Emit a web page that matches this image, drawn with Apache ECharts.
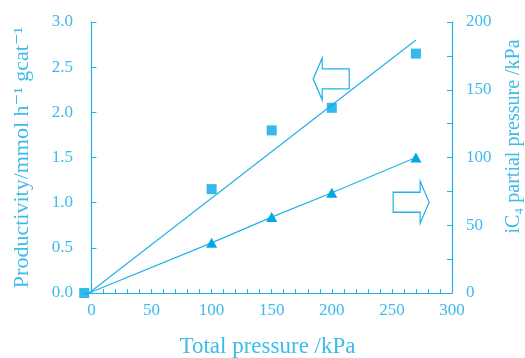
<!DOCTYPE html>
<html>
<head>
<meta charset="utf-8">
<script src="https://cdn.jsdelivr.net/npm/echarts@6/dist/echarts.min.js"></script>
<style>
  html, body { margin: 0; padding: 0; background: #fff; }
  #chart { width: 525px; height: 358px; }
</style>
</head>
<body>
<div id="chart"></div>
<script>
// productivity (left axis, squares)
const prodPressure = [-6, 100, 150, 200, 270];
const productivity = [0, 1.15, 1.8, 2.05, 2.65];
// straight fit through productivity
const fitPressure = [-2, 270];
const fitProductivity = [0, 2.8];
// iC4 partial pressure (right axis, triangles)
const ic4Pressure = [-2, 100, 150, 200, 270];
const ic4Partial = [0, 37, 56, 74, 100];

const xLabels = [0, 50, 100, 150, 200, 250, 300];
const xTicks = [0, 10, 20, 30, 40, 50, 60, 70, 80, 90, 100, 110, 120, 130, 140, 150,
  160, 170, 180, 190, 200, 210, 220, 230, 240, 250, 260, 270, 280, 290, 300];

const LINE = "#22b2e8";
const MARK = "#00a8e6";
const TEXT = "#3dbbea";
const FONT = "'Liberation Serif', 'DejaVu Serif', serif";

const chart = echarts.init(document.getElementById("chart"));

const leftArrow = "path://M0,21 L9,0 L9,11 L36,11 L36,31 L9,31 L9,42 Z";
const rightArrow = "path://M36,21 L27,0 L27,11 L0,11 L0,31 L27,31 L27,42 Z";

chart.setOption({
  animation: false,
  backgroundColor: "#fff",
  grid: { left: 83, right: 73, top: 22, bottom: 65, outerBoundsMode: "none" },
  xAxis: {
    type: "value",
    min: -7,
    max: 300,
    name: "Total pressure /kPa",
    nameLocation: "middle",
    nameGap: 42,
    nameTextStyle: { color: TEXT, fontFamily: FONT, fontSize: 23 },
    axisLine: { onZero: false, lineStyle: { color: LINE, width: 1.2 } },
    axisTick: { inside: true, length: 4, customValues: xTicks, lineStyle: { color: LINE } },
    axisLabel: { customValues: xLabels, color: TEXT, fontFamily: FONT, fontSize: 17, margin: 9 },
    splitLine: { show: false },
  },
  yAxis: [
    {
      type: "value",
      min: 0,
      max: 3,
      interval: 0.5,
      name: "Productivity/mmol h\u207B\u00B9 gcat\u207B\u00B9",
      nameLocation: "middle",
      nameGap: 50,
      nameTextStyle: { color: TEXT, fontFamily: FONT, fontSize: 22 },
      axisLine: { show: true, lineStyle: { color: LINE, width: 1.2 } },
      axisTick: { inside: true, length: 5, lineStyle: { color: LINE } },
      axisLabel: { color: TEXT, fontFamily: FONT, fontSize: 17, margin: 10,
        formatter: (v) => v.toFixed(1) },
      splitLine: { show: false },
    },
    {
      type: "value",
      min: 0,
      max: 200,
      interval: 25,
      position: "right",
      name: "iC\u2084 partial pressure /kPa",
      nameLocation: "middle",
      nameGap: 52,
      nameRotate: 90,
      nameTextStyle: { color: TEXT, fontFamily: FONT, fontSize: 20, padding: [0, 0, 0, 42] },
      axisLine: { show: true, lineStyle: { color: LINE, width: 1.2 } },
      axisTick: { inside: true, length: 5, lineStyle: { color: LINE } },
      axisLabel: { color: TEXT, fontFamily: FONT, fontSize: 17, margin: 14,
        formatter: (v) => (v % 50 === 0 ? String(v) : "") },
      splitLine: { show: false },
    },
  ],
  series: [
    {
      name: "fit",
      type: "line",
      yAxisIndex: 0,
      data: fitPressure.map((x, i) => [x, fitProductivity[i]]),
      showSymbol: false,
      lineStyle: { color: LINE, width: 1.2 },
      markPoint: {
        symbol: leftArrow,
        symbolSize: [36, 42],
        label: { show: false },
        itemStyle: { color: "#fff", borderColor: LINE, borderWidth: 1.3 },
        data: [{ coord: [199.5, 2.37] }],
      },
    },
    {
      name: "iC4",
      type: "line",
      yAxisIndex: 1,
      data: ic4Pressure.map((x, i) =>
        i === 0 ? { value: [x, ic4Partial[i]], symbol: "none" } : [x, ic4Partial[i]]),
      symbol: "triangle",
      symbolSize: [11, 10],
      showAllSymbol: true,
      lineStyle: { color: LINE, width: 1.2 },
      itemStyle: { color: MARK },
      markPoint: {
        symbol: rightArrow,
        symbolSize: [36, 42],
        label: { show: false },
        itemStyle: { color: "#fff", borderColor: LINE, borderWidth: 1.3 },
        data: [{ coord: [266, 67] }],
      },
      z: 3,
    },
    {
      name: "productivity",
      type: "scatter",
      yAxisIndex: 0,
      data: prodPressure.map((x, i) => [x, productivity[i]]),
      symbol: "rect",
      symbolSize: 10,
      itemStyle: { color: MARK },
      z: 5,
    },
  ],
});
</script>
</body>
</html>
